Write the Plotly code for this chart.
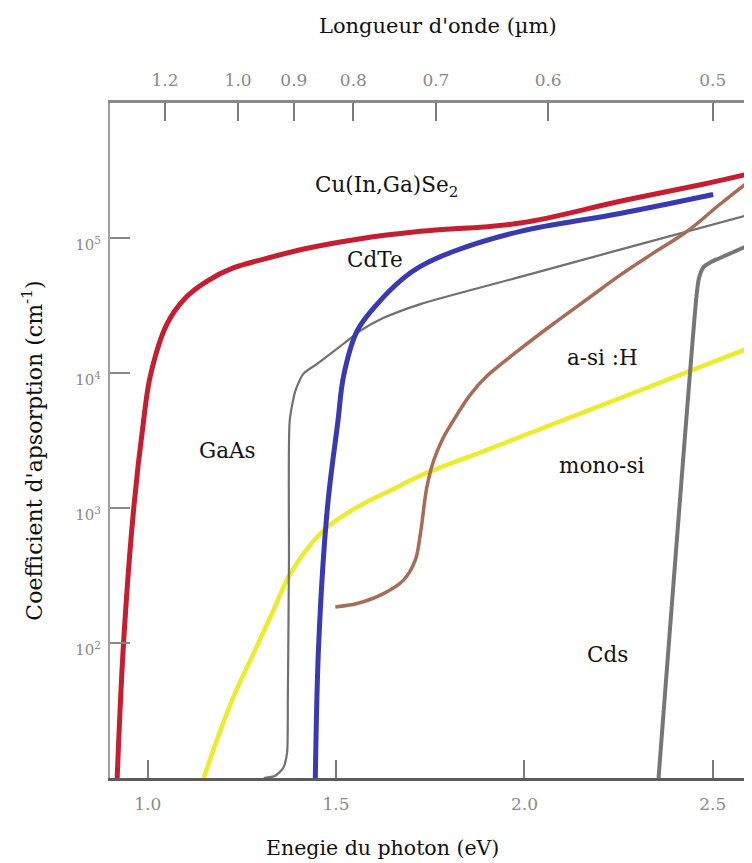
import plotly.graph_objects as go

# ---------------- data ----------------
# photon energy (eV) / absorption coefficient (cm^-1)
energy_cigs = [0.919, 0.936, 0.963, 0.989, 1.007, 1.051, 1.100, 1.158, 1.227, 1.318,
               1.424, 1.557, 1.724, 1.989, 2.254, 2.474, 2.599]
alpha_cigs = [1.0e1, 1.0e2, 1.0e3, 4.4e3, 9.5e3, 2.3e4, 3.6e4, 4.8e4, 6.0e4, 7.1e4,
              8.4e4, 9.8e4, 1.12e5, 1.29e5, 1.87e5, 2.5e5, 3.0e5]

energy_cdte = [1.445, 1.454, 1.477, 1.505, 1.520, 1.556, 1.609, 1.679, 1.724, 1.811,
               1.989, 2.254, 2.501]
alpha_cdte = [1.0e1, 1.0e2, 1.0e3, 4.4e3, 9.5e3, 2.05e4, 3.24e4, 5.05e4, 6.17e4, 7.94e4,
              1.12e5, 1.52e5, 2.1e5]

energy_gaas = [1.308, 1.339, 1.360, 1.370, 1.372, 1.375, 1.377, 1.392, 1.413, 1.450,
               1.519, 1.564, 1.625, 1.724, 1.989, 2.254, 2.599]
alpha_gaas = [10, 10.4, 11.9, 15.4, 37.9, 409, 4430, 7380, 9860, 11700,
              16400, 20500, 25500, 32400, 51500, 82000, 149600]

energy_asi = [1.498, 1.556, 1.626, 1.679, 1.710, 1.724, 1.741, 1.759, 1.785, 1.811,
              1.856, 1.901, 1.989, 2.076, 2.167, 2.254, 2.342, 2.432, 2.519, 2.599]
alpha_asi = [185, 196, 232, 292, 409, 649, 1426, 2244, 3334, 4426,
             6890, 9530, 15070, 23070, 35320, 53090, 77270, 112200, 177800, 267300]

energy_monosi = [1.149, 1.184, 1.228, 1.281, 1.334, 1.379, 1.467, 1.556, 1.644, 1.724,
                 1.901, 2.103, 2.343, 2.599]
alpha_monosi = [10, 19.2, 40.1, 83.8, 175, 327, 682, 1014, 1346, 1738,
                2698, 4477, 8128, 15420]

energy_cds = [2.356, 2.458, 2.464, 2.475, 2.494, 2.519, 2.599]
alpha_cds = [10, 40360, 51290, 60800, 66220, 71120, 89330]

# axis ticks
energy_ticks = [1.0, 1.5, 2.0, 2.5]
energy_labels = ["1.0", "1.5", "2.0", "2.5"]
# top axis: wavelength labels and where the picture places them on the energy scale
wavelength_labels = ["1.2", "1.0", "0.9", "0.8", "0.7", "0.6", "0.5"]
wavelength_tick_energy = [1.046, 1.240, 1.388, 1.546, 1.765, 2.063, 2.500]
alpha_ticks = [1e2, 1e3, 1e4, 1e5]
alpha_labels = ["10<sup>2</sup>", "10<sup>3</sup>", "10<sup>4</sup>", "10<sup>5</sup>"]

# ---------------- figure ----------------
FONT = "DejaVu Serif"
fig = go.Figure()

series = [
    (energy_monosi, alpha_monosi, "#ecec2e", 4.5, "mono-si", 1.0),
    (energy_gaas, alpha_gaas, "#707070", 2.2, "GaAs", 0.6),
    (energy_cds, alpha_cds, "#767676", 4, "Cds", 0.6),
    (energy_asi, alpha_asi, "#a86c56", 3.5, "a-si :H", 1.0),
    (energy_cdte, alpha_cdte, "#3a3ab0", 5, "CdTe", 1.0),
    (energy_cigs, alpha_cigs, "#c41e30", 5, "Cu(In,Ga)Se2", 1.0),
]
for ex, ay, col, w, name, sm in series:
    fig.add_trace(go.Scatter(x=ex, y=ay, mode="lines", name=name,
                             line=dict(color=col, width=w, shape="spline", smoothing=sm)))

# curve labels (energy, log10 alpha)
labels = [
    ("Cu(In,Ga)Se<sub>2</sub>", 1.633, 5.382),
    ("CdTe", 1.604, 4.843),
    ("GaAs", 1.211, 3.425),
    ("a-si :H", 2.206, 4.112),
    ("mono-si", 2.204, 3.314),
    ("Cds", 2.220, 1.912),
]
for txt, xx, yy in labels:
    fig.add_annotation(x=xx, y=yy, xref="x", yref="y", text=txt, showarrow=False,
                       xanchor="center", yanchor="middle",
                       font=dict(family=FONT, size=21.5, color="#111111"))

# axis titles
fig.add_annotation(x=0.511, y=1, xref="paper", yref="paper", yshift=77,
                   xanchor="center", yanchor="middle", text="Longueur d'onde (µm)",
                   showarrow=False, font=dict(family=FONT, size=21, color="#111111"))
fig.add_annotation(x=0.425, y=0, xref="paper", yref="paper", yshift=-70,
                   xanchor="center", yanchor="middle", text="Enegie du photon (eV)",
                   showarrow=False, font=dict(family=FONT, size=20.5, color="#111111"))
fig.add_annotation(x=0, y=0.485, xref="paper", yref="paper", xshift=-78, textangle=-90,
                   xanchor="center", yanchor="middle",
                   text="Coefficient d'apsorption (cm<sup>-1</sup>)",
                   showarrow=False, font=dict(family=FONT, size=22, color="#111111"))

# the page body adds an 8px offset, so the figure is 8px smaller than the window
xr = [0.9, 2.604]
fig.update_layout(
    width=744, height=855,
    margin=dict(l=102, r=0, t=95, b=85),
    paper_bgcolor="white", plot_bgcolor="white",
    showlegend=False,
    xaxis=dict(range=xr, showgrid=False, zeroline=False, showline=True,
               linecolor="#5c5c5c", linewidth=3,
               ticks="inside", ticklen=18, tickwidth=2, tickcolor="#7a7a7a",
               tickvals=energy_ticks, ticktext=energy_labels,
               tickfont=dict(family=FONT, size=17, color="#8a8a8a"),
               ticklabelstandoff=9),
    xaxis2=dict(range=xr, overlaying="x", side="top", showgrid=False, zeroline=False,
                showline=True, linecolor="#8a8a8a", linewidth=3,
                ticks="inside", ticklen=18, tickwidth=2, tickcolor="#7a7a7a",
                tickvals=wavelength_tick_energy, ticktext=wavelength_labels,
                tickfont=dict(family=FONT, size=17, color="#8a8a8a"),
                ticklabelstandoff=7),
    yaxis=dict(type="log", range=[1, 6], showgrid=False, zeroline=False, showline=True,
               linecolor="#a0a0a0", linewidth=2,
               ticks="inside", ticklen=20, tickwidth=2, tickcolor="#8a8a8a",
               tickvals=alpha_ticks, ticktext=alpha_labels,
               tickfont=dict(family=FONT, size=15, color="#8a8a8a"),
               ticklabelstandoff=4, ticklabelshift=7),
)
# invisible point so the top (wavelength) axis is drawn
fig.add_trace(go.Scatter(x=[energy_cigs[0]], y=[alpha_cigs[0]], xaxis="x2", mode="markers",
                         marker=dict(opacity=0), hoverinfo="skip", showlegend=False))

fig.write_html("out.html")
